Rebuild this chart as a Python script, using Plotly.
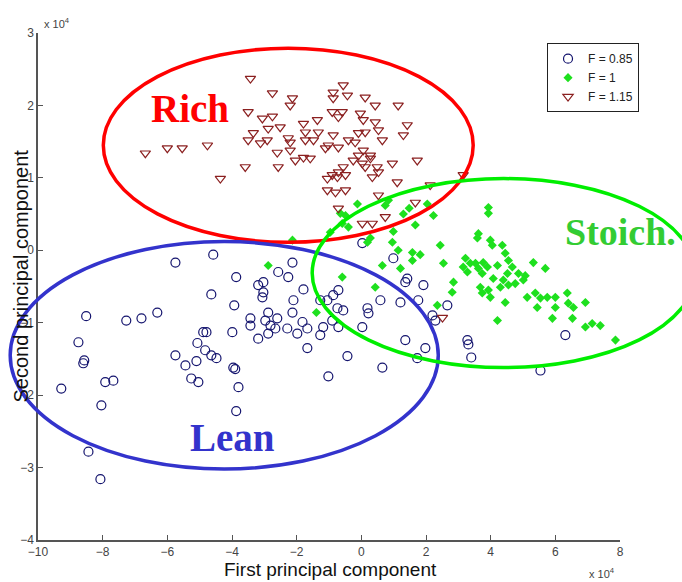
import plotly.graph_objects as go

# ---------------- data (values in units of 10^4) ----------------
X_RANGE = [-10, 8]
Y_RANGE = [-4, 3]
X_TICKS = [-10, -8, -6, -4, -2, 0, 2, 4, 6, 8]
Y_TICKS = [-4, -3, -2, -1, 0, 1, 2, 3]
SERIES_NAMES = ["F = 0.85", "F = 1", "F = 1.15"]

lean_x = [-4.58, -5.75, -4.64, -3.87, -3.93, -8.51, -7.27, -6.80, -6.31, -4.89,
          -4.79, -3.99, -8.75, -5.07, -4.83, -4.64, -4.48, -5.75, -5.10, -5.44,
          -8.57, -8.60, -3.96, -3.90, -7.92, -7.67, -5.26, -5.04, -9.28, -3.80,
          -8.04, -3.87, -8.44, -8.07, -2.13, -2.57, -2.26, -3.19, -3.03, -3.03,
          -3.06, -1.79, -2.10, -0.71, -0.87, -1.05, -1.27, -0.74, -0.56, 0.19,
          0.22, 0.59, 1.21, 1.36, 1.42, 1.92, 1.76, 2.66, 0.99, 0.03,
          -2.88, -2.60, -3.43, -3.43, -2.97, -2.81, -2.66, -2.13, -1.82, -2.29,
          -1.98, -1.67, -1.18, -1.27, -0.71, -0.90, -3.19, -2.88, 0.03, 2.20,
          2.29, -1.67, -0.43, 1.36, 1.98, 1.73, 0.65, -1.02, 3.28, 3.31,
          3.40, 6.31, 5.54]
lean_y = [-0.06, -0.17, -0.61, -0.37, -0.76, -0.91, -0.97, -0.94, -0.86, -1.13,
          -1.13, -1.13, -1.27, -1.28, -1.38, -1.45, -1.49, -1.45, -1.53, -1.59,
          -1.52, -1.56, -1.62, -1.64, -1.82, -1.80, -1.77, -1.82, -1.91, -1.89,
          -2.14, -2.22, -2.78, -3.16, -0.17, -0.30, -0.37, -0.48, -0.44, -0.58,
          -0.65, -0.54, -0.69, -0.55, -0.62, -0.69, -0.69, -0.80, -0.83, -0.80,
          -0.87, -0.69, -0.72, -0.44, -0.39, -0.48, -0.69, -0.76, -0.11, 0.10,
          -0.86, -0.94, -0.94, -1.04, -0.97, -1.04, -1.08, -0.86, -0.99, -1.08,
          -1.15, -1.08, -1.06, -1.17, -1.06, -0.97, -1.22, -1.15, -1.06, -0.90,
          -0.97, -1.35, -1.46, -1.24, -1.35, -1.49, -1.62, -1.74, -1.24, -1.30,
          -1.48, -1.17, -1.66]

stoich_x = [-2.88, -2.13, -1.39, -0.96, -0.59, -0.49, -0.40, -0.59, -0.12, -0.65,
            0.19, 0.28, 0.43, 0.65, 0.74, 0.84, 0.96, 0.99, 1.14, 1.21,
            1.30, 1.48, 1.67, 1.58, 1.82, 1.58, 2.04, 2.23, 2.35, 2.44,
            2.54, 2.85, 2.81, 3.22, 3.37, 3.15, 3.28, 3.53, 3.62, 3.77,
            3.90, 3.74, 4.21, 4.55, 4.67, 4.86, 4.52, 4.39, 4.08, 5.07,
            5.01, 5.32, 5.69, 3.62, 3.59, 3.99, 4.05, 4.36, 4.45, 3.93,
            3.93, 3.68, 3.93, 3.74, 3.99, 4.30, 4.55, 4.76, 4.45, 5.13,
            5.38, 5.54, 5.44, 5.75, 6.00, 6.37, 6.40, 6.56, 6.93, 6.00,
            6.53, 5.91, 6.93, 7.14, 7.39, 4.21, 7.86]
stoich_y = [-0.21, 0.14, -0.86, 0.25, 0.37, 0.48, 0.32, -0.37, 0.64, 0.51,
            0.11, 0.17, -0.51, -0.21, 0.62, 0.69, 0.11, 0.26, 0.00, -0.25,
            0.50, 0.58, 0.35, -0.03, -0.06, -0.14, 0.64, 0.48, -0.76, 0.07,
            -0.18, -0.44, -0.58, -0.11, -0.18, -0.23, -0.30, -0.18, -0.25, -0.17,
            -0.23, -0.32, -0.21, -0.14, -0.23, -0.32, -0.32, -0.41, -0.39, -0.35,
            -0.41, -0.17, -0.25, 0.23, 0.17, 0.14, 0.07, 0.07, -0.04, 0.59,
            0.51, -0.51, -0.55, -0.59, -0.65, -0.51, -0.48, -0.46, -0.72, -0.65,
            -0.59, -0.66, -0.79, -0.65, -0.65, -0.59, -0.73, -0.79, -0.72, -0.79,
            -0.94, -0.94, -1.06, -1.01, -1.04, -0.97, -1.24]

rich_x = [-6.68, -6.00, -5.54, -4.76, -4.36, -3.59, -3.50, -3.43, -3.50, -3.34,
          -3.12, -3.06, -2.91, -2.88, -2.75, -2.75, -2.60, -2.57, -2.51, -2.26,
          -2.20, -2.13, -2.20, -2.20, -2.04, -1.79, -1.36, -1.73, -1.33, -1.73,
          -1.48, -1.79, -1.58, -0.87, -0.56, -0.43, -0.87, 0.12, 0.43, 1.14,
          -0.90, -0.59, -0.71, -0.03, 0.06, 0.43, 1.42, 1.30, 0.53, 0.12,
          -0.09, -0.87, 0.65, -1.02, -0.71, -0.40, -0.19, -1.11, 0.06, 0.28,
          -0.09, -0.25, 0.03, 0.28, 0.49, 0.53, 0.96, 1.73, -0.56, -0.71,
          -0.90, 0.12, 0.34, -1.05, -0.74, -0.49,
          1.11, 2.13, 3.15, -1.05, -0.80, -0.49, 0.53, 1.67, -0.71, 0.74, 0.03, 0.34, 2.51]
rich_y = [1.34, 1.41, 1.41, 1.45, 0.99, 1.15, 1.91, 2.37, 1.52, 1.62,
          1.48, 1.82, 1.52, 1.68, 2.17, 1.85, 1.35, 1.15, 1.70, 1.55,
          2.00, 2.10, 1.49, 1.38, 1.24, 1.75, 1.80, 1.63, 1.63, 1.52,
          1.52, 1.28, 1.27, 2.18, 2.28, 2.14, 2.10, 2.11, 2.00, 2.00,
          1.91, 1.91, 1.84, 1.89, 1.80, 1.77, 1.73, 1.59, 1.66, 1.63,
          1.62, 1.59, 1.52, 1.45, 1.42, 1.52, 1.49, 1.41, 1.38, 1.31,
          1.31, 1.24, 1.20, 1.27, 1.15, 1.08, 1.20, 1.24, 1.15, 1.08,
          1.04, 1.15, 1.01, 0.99, 1.01, 1.04,
          0.94, 0.90, 1.04, 0.83, 0.80, 0.83, 0.76, 0.66, 0.58, 0.46, 0.37, 0.37, -0.93]

# regime ellipses (data units): x0, x1, y0, y1
RICH_ELLIPSE = (-7.98, 3.46, 0.11, 2.79)
LEAN_ELLIPSE = (-10.86, 2.38, -3.02, 0.12)
STOICH_ELLIPSE = (-1.52, 10.33, -1.62, 0.99)
RICH_LABEL = (-5.29, 1.96)
LEAN_LABEL = (-3.99, -2.58)
STOICH_LABEL = (8.01, 0.25)


def px(v):
    return (v - X_RANGE[0]) / (X_RANGE[1] - X_RANGE[0])


def py(v):
    return (v - Y_RANGE[0]) / (Y_RANGE[1] - Y_RANGE[0])


fig = go.Figure()
fig.add_trace(go.Scatter(
    x=lean_x, y=lean_y, mode="markers", name=SERIES_NAMES[0],
    marker=dict(symbol="circle-open", size=9, color="#14146e", line=dict(width=1.2, color="#14146e"))))
fig.add_trace(go.Scatter(
    x=stoich_x, y=stoich_y, mode="markers", name=SERIES_NAMES[1],
    marker=dict(symbol="diamond", size=7, color="#1ee01e", line=dict(width=0))))
fig.add_trace(go.Scatter(
    x=rich_x, y=rich_y, mode="markers", name=SERIES_NAMES[2],
    marker=dict(symbol="triangle-down-open", size=9, color="#8b2020", line=dict(width=1.2, color="#8b2020"))))

shapes = []
for ell, col in [(RICH_ELLIPSE, "#ff0000"), (LEAN_ELLIPSE, "#3333cc"), (STOICH_ELLIPSE, "#00ee00")]:
    shapes.append(dict(type="circle", xref="paper", yref="paper",
                       x0=px(ell[0]), x1=px(ell[1]), y0=py(ell[2]), y1=py(ell[3]),
                       line=dict(color=col, width=3.5), layer="above"))

label_font = "Liberation Serif, Times New Roman, serif"
sans = "Liberation Sans, Arial"
annotations = [
    dict(text="<b>Rich</b>", x=px(RICH_LABEL[0]), y=py(RICH_LABEL[1]), xref="paper", yref="paper",
         xanchor="center", yanchor="middle",
         showarrow=False, font=dict(family=label_font, size=39, color="#ff0000")),
    dict(text="<b>Lean</b>", x=px(LEAN_LABEL[0]), y=py(LEAN_LABEL[1]), xref="paper", yref="paper",
         xanchor="center", yanchor="middle",
         showarrow=False, font=dict(family=label_font, size=39, color="#3333cc")),
    dict(text="<b>Stoich.</b>", x=px(STOICH_LABEL[0]), y=py(STOICH_LABEL[1]), xref="paper", yref="paper",
         xanchor="center", yanchor="middle",
         showarrow=False, font=dict(family=label_font, size=38, color="#33cc33")),
    dict(text="First principal component", x=0.502, y=-0.058, xref="paper", yref="paper",
         xanchor="center", yanchor="middle",
         showarrow=False, font=dict(family=sans, size=19, color="#111")),
    dict(text="Second principal component", x=-0.029, y=0.52, xref="paper", yref="paper",
         xanchor="center", yanchor="middle",
         textangle=-90, showarrow=False, font=dict(family=sans, size=20, color="#111")),
    dict(text="x 10<sup>4</sup>", x=0.007, y=1.02, xref="paper", yref="paper", xanchor="left",
         yanchor="middle", showarrow=False, font=dict(family=sans, size=11, color="#444")),
    dict(text="x 10<sup>4</sup>", x=0.943, y=-0.066, xref="paper", yref="paper", xanchor="left",
         yanchor="middle", showarrow=False, font=dict(family=sans, size=11, color="#444")),
]

axis_common = dict(showgrid=False, zeroline=False, showline=True, linecolor="#555", linewidth=1.5,
                   ticks="inside", ticklen=5, tickcolor="#555", mirror=False, automargin=False,
                   tickfont=dict(family=sans, size=12, color="#444"))

fig.update_layout(
    width=682, height=582,
    margin=dict(l=38, r=62, t=33, b=42, autoexpand=False),
    paper_bgcolor="white", plot_bgcolor="white",
    xaxis=dict(range=X_RANGE, tickvals=X_TICKS, **axis_common),
    yaxis=dict(range=Y_RANGE, tickvals=Y_TICKS, **axis_common),
    shapes=shapes, annotations=annotations,
    legend=dict(x=0.8746, y=0.98, xanchor="left", yanchor="top",
                bordercolor="#222", borderwidth=1, bgcolor="white",
                font=dict(family=sans, size=12, color="#222"),
                tracegroupgap=0, itemwidth=30),
    showlegend=True,
)

fig.write_html("out.html", config={"displayModeBar": False},
               post_script="document.body.style.margin='0';document.body.style.overflow='hidden';")
